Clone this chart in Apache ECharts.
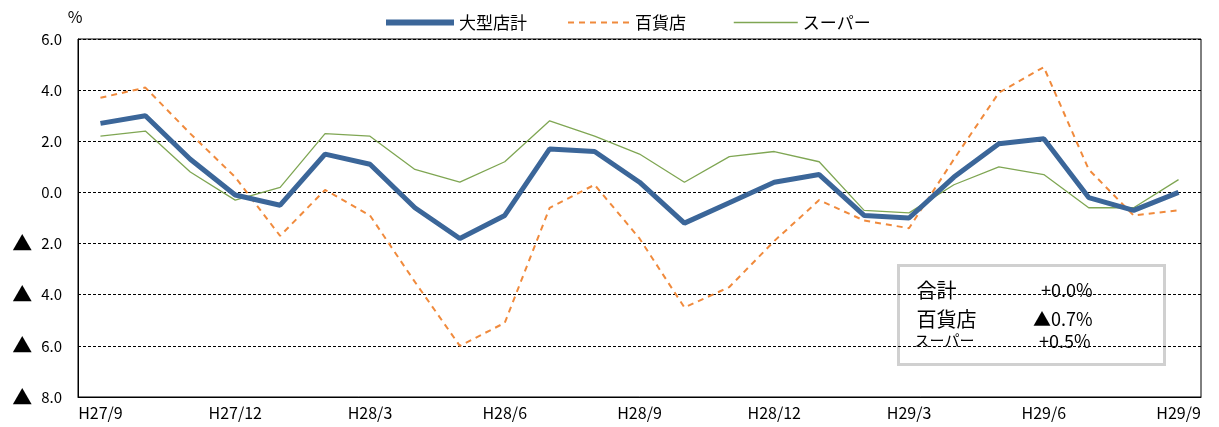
<!DOCTYPE html>
<html>
<head>
<meta charset="utf-8">
<script src="https://cdn.jsdelivr.net/npm/echarts@6/dist/echarts.min.js"></script>
<style>
  html, body { margin: 0; padding: 0; background: #fff; }
  #chart { width: 1219px; height: 427px; }
</style>
</head>
<body>
<div id="chart"></div>
<script>
// 月（H27/9〜H29/9）
var months = ['H27/9','H27/10','H27/11','H27/12','H28/1','H28/2','H28/3','H28/4','H28/5','H28/6','H28/7','H28/8',
              'H28/9','H28/10','H28/11','H28/12','H29/1','H29/2','H29/3','H29/4','H29/5','H29/6','H29/7','H29/8','H29/9'];
// 前年同月比（%）
var total  = [2.7, 3.0, 1.3, -0.1, -0.5, 1.5, 1.1, -0.6, -1.8, -0.9, 1.7, 1.6, 0.4, -1.2, -0.4, 0.4, 0.7, -0.9, -1.0, 0.6, 1.9, 2.1, -0.2, -0.7, 0.0];
var depart = [3.7, 4.1, 2.3, 0.6, -1.7, 0.1, -0.9, -3.5, -6.0, -5.1, -0.6, 0.3, -1.8, -4.5, -3.7, -1.9, -0.3, -1.1, -1.4, 1.3, 3.9, 4.9, 0.9, -0.9, -0.7];
var superm = [2.2, 2.4, 0.8, -0.3, 0.2, 2.3, 2.2, 0.9, 0.4, 1.2, 2.8, 2.2, 1.5, 0.4, 1.4, 1.6, 1.2, -0.7, -0.8, 0.3, 1.0, 0.7, -0.6, -0.6, 0.5];
var names  = ['大型店計', '百貨店', 'スーパー'];
var boxNames = ['合計', '百貨店', 'スーパー'];

var FONT = '"Noto Sans CJK JP", sans-serif';
var colors = ['#3b6699', '#f08a3c', '#7fa653'];

// 符号付き表記（マイナスは▲）
function signed(v) {
  if (v < 0) return '▲' + (-v).toFixed(1) + '%';
  return '+' + v.toFixed(1) + '%';
}

var chart = echarts.init(document.getElementById('chart'));

var last = [total[total.length - 1], depart[depart.length - 1], superm[superm.length - 1]];

// 凡例は1項目ずつ配置
function legendItem(name, left, w, lw, dash) {
  return {
    top: 9, left: left,
    itemWidth: w, itemHeight: 12, itemGap: 0,
    itemStyle: { opacity: 0 },
    lineStyle: { width: lw, type: dash },
    textStyle: { fontSize: 17, color: '#000', fontFamily: FONT },
    data: [name]
  };
}

var option = {
  backgroundColor: '#fff',
  animation: false,
  textStyle: { fontFamily: FONT, color: '#000' },
  legend: [
    legendItem(names[0], 378, 68, 6, 'solid'),
    legendItem(names[1], 562, 62, 2, [6, 5]),
    legendItem(names[2], 728, 64, 1.5, 'solid')
  ],
  grid: {
    left: 78, right: 18, top: 39, bottom: 30,
    show: true, borderColor: '#000', borderWidth: 1
  },
  xAxis: {
    type: 'category',
    data: months,
    boundaryGap: true,
    axisLine: { onZero: false, lineStyle: { color: '#000', width: 1 } },
    axisTick: { inside: true, length: 5, interval: 0, lineStyle: { color: '#000' } },
    axisLabel: { interval: 2, fontSize: 16, color: '#000', margin: 8, fontFamily: FONT }
  },
  yAxis: {
    type: 'value',
    min: -8, max: 6, interval: 2,
    name: '%',
    nameGap: 14,
    nameTextStyle: { fontSize: 16, color: '#000', padding: [0, 0, 0, -6] },
    axisLine: { show: true, lineStyle: { color: '#000' } },
    axisTick: { show: false },
    splitLine: { lineStyle: { color: '#000', type: [3, 2], width: 1 } },
    axisLabel: {
      margin: 16,
      formatter: function (v) {
        if (v < 0) return '{t|▲}{n|' + (-v).toFixed(1) + '}';
        return '{n|' + v.toFixed(1) + '}';
      },
      rich: {
        t: { fontSize: 20, color: '#000', padding: [0, 9, 0, 0] },
        n: { fontSize: 15, color: '#000' }
      }
    }
  },
  series: [
    {
      name: names[0], type: 'line', data: total, symbol: 'none',
      lineStyle: { color: colors[0], width: 5 }, itemStyle: { color: colors[0] }, z: 5
    },
    {
      name: names[1], type: 'line', data: depart, symbol: 'none',
      lineStyle: { color: colors[1], width: 2, type: [6, 5] }, itemStyle: { color: colors[1] }, z: 4
    },
    {
      name: names[2], type: 'line', data: superm, symbol: 'none',
      lineStyle: { color: colors[2], width: 1.3 }, itemStyle: { color: colors[2] }, z: 3
    }
  ],
  graphic: [
    {
      type: 'group', left: 897, top: 264, z: 100,
      children: [
        { type: 'rect', shape: { x: 0, y: 0, width: 266, height: 99 },
          style: { fill: '#fff', stroke: '#d0d0d0', lineWidth: 3 } },
        { type: 'text', x: 18, y: 25, style: { text: boxNames[0], font: '20px ' + FONT, fill: '#000', verticalAlign: 'middle' } },
        { type: 'text', x: 18, y: 54, style: { text: boxNames[1], font: '20px ' + FONT, fill: '#000', verticalAlign: 'middle' } },
        { type: 'text', x: 16, y: 75, style: { text: boxNames[2], font: '15px ' + FONT, fill: '#000', verticalAlign: 'middle' } },
        { type: 'text', x: 194, y: 25, style: { text: signed(last[0]), font: '18px ' + FONT, fill: '#000', align: 'right', verticalAlign: 'middle' } },
        { type: 'text', x: 194, y: 54, style: { text: signed(last[1]), font: '18px ' + FONT, fill: '#000', align: 'right', verticalAlign: 'middle' } },
        { type: 'text', x: 192, y: 76, style: { text: signed(last[2]), font: '18px ' + FONT, fill: '#000', align: 'right', verticalAlign: 'middle' } }
      ]
    }
  ]
};

chart.setOption(option);
</script>
</body>
</html>
